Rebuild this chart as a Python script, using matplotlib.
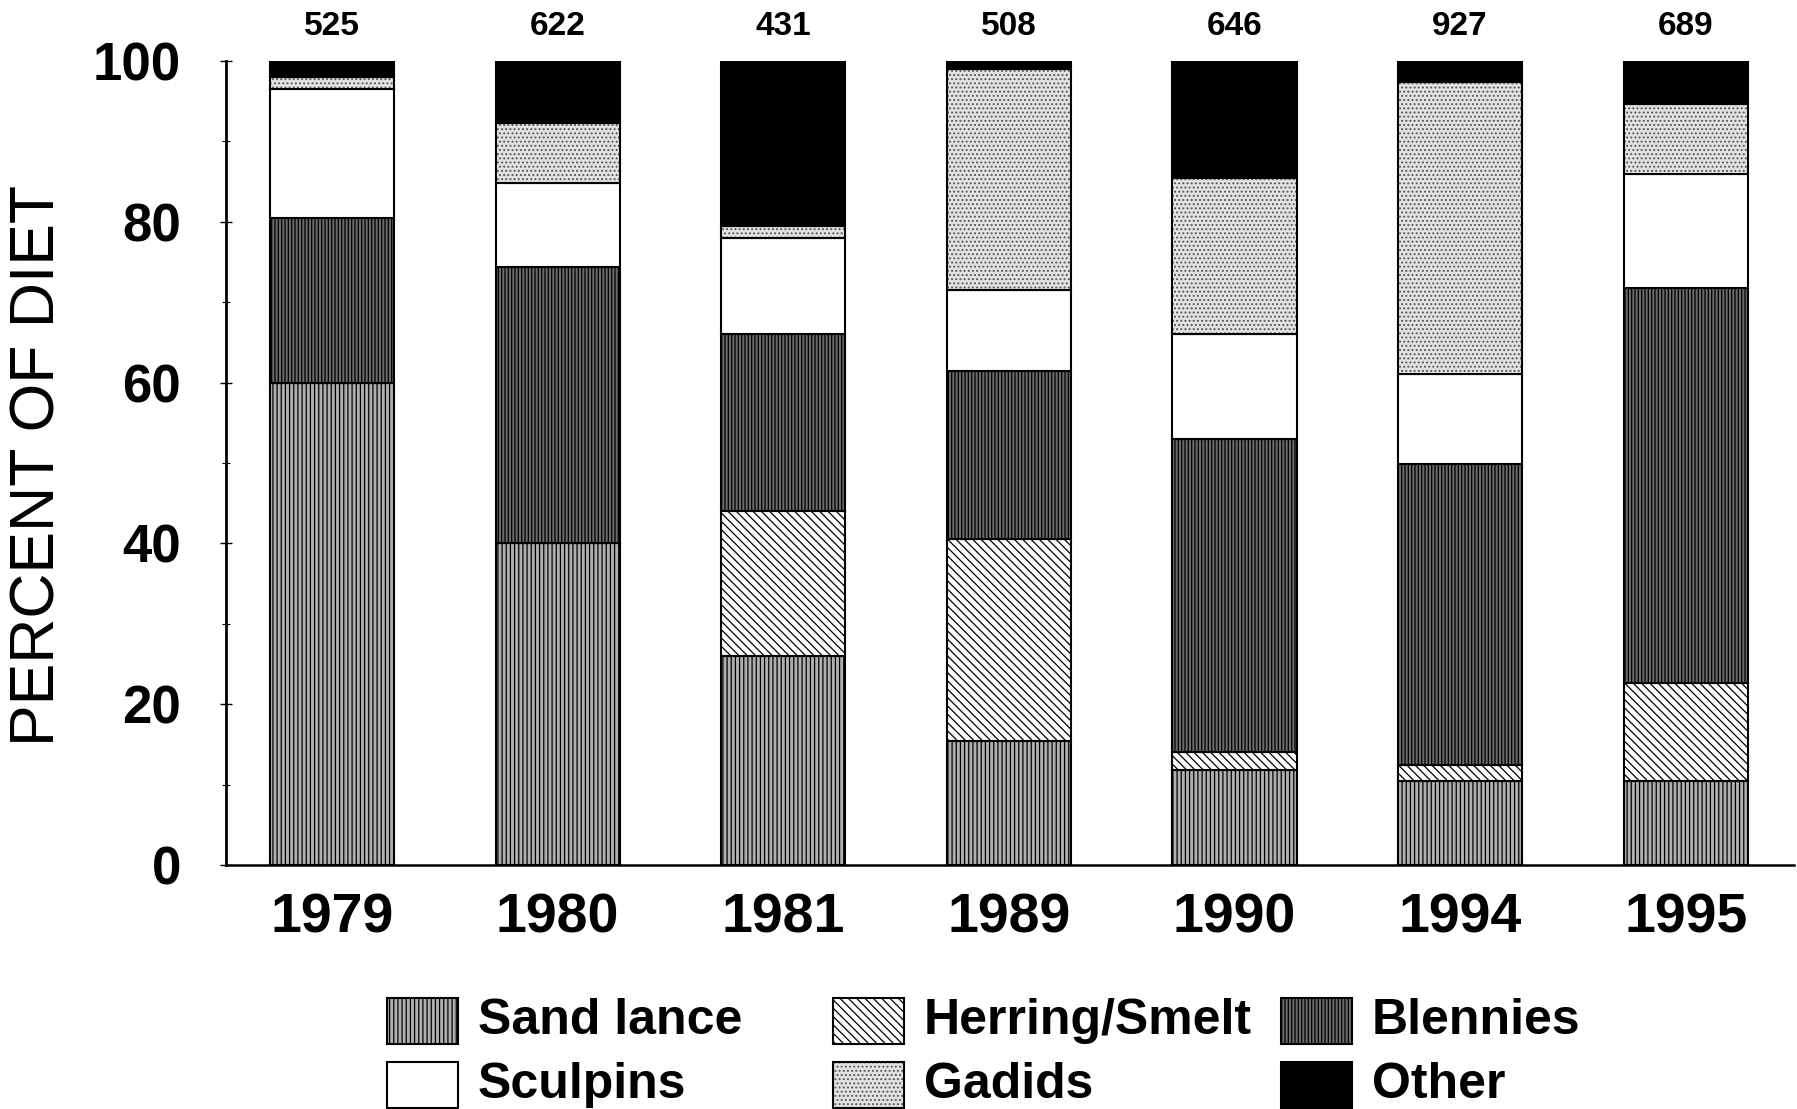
import numpy as np
import matplotlib.pyplot as plt
from matplotlib.patches import Rectangle

plt.rcParams['font.family'] = ['Liberation Sans', 'DejaVu Sans']
plt.rcParams['hatch.linewidth'] = 0.9

years = ['1979', '1980', '1981', '1989', '1990', '1994', '1995']
counts = [525, 622, 431, 508, 646, 927, 689]

sand_lance = [60.0, 40.0, 26.0, 15.4, 11.8, 10.5, 10.5]
herring_smelt = [0.0, 0.0, 18.0, 25.2, 2.2, 1.9, 12.1]
blennies = [20.5, 34.4, 22.0, 20.9, 39.0, 37.5, 49.2]
sculpins = [16.0, 10.4, 12.0, 10.0, 13.0, 11.2, 14.1]
gadids = [1.5, 7.5, 1.5, 27.5, 19.5, 36.3, 8.7]
other = [2.0, 7.7, 20.5, 1.0, 14.5, 2.6, 5.4]

names = ['Sand lance', 'Herring/Smelt', 'Blennies', 'Sculpins', 'Gadids', 'Other']
series = [sand_lance, herring_smelt, blennies, sculpins, gadids, other]
# face, hatch, hatch colour
styles = [('#b0b0b0', '||||', 'black'),
          ('white', '\\\\\\\\', 'black'),
          ('#6a6a6a', '|||||', 'black'),
          ('white', '', 'black'),
          ('#e2e2e2', '....', '#555555'),
          ('black', '', 'black')]

fig = plt.figure(figsize=(17.97, 11.09), dpi=100)
ax = fig.add_axes([0.1258, 0.22, 0.8725, 0.725])

x = np.arange(len(years))
w = 0.55
bottom = np.zeros(len(years))
for vals, (fc, hatch, hc) in zip(series, styles):
    vals = np.array(vals)
    ax.bar(x, vals, w, bottom=bottom, color=fc, hatch=hatch, edgecolor=hc, linewidth=0)
    ax.bar(x, vals, w, bottom=bottom, fill=False, edgecolor='black', linewidth=1.5)
    bottom += vals

for xi, n in zip(x, counts):
    ax.text(xi, 104.3, str(n), ha='center', va='center', fontsize=24,
            fontweight='bold', clip_on=False)

ax.set_xlim(-0.47, 6.48)
ax.set_ylim(0, 100)
ax.spines['top'].set_visible(False)
ax.spines['right'].set_visible(False)
ax.spines['left'].set_linewidth(2)
ax.spines['bottom'].set_linewidth(1.8)

ax.set_xticks(x)
ax.set_xticklabels(years, fontsize=40, fontweight='bold')
ax.tick_params(axis='x', length=0, pad=20)
ax.set_yticks(range(0, 101, 20))
ax.set_yticks(range(10, 100, 20), minor=True)
ax.tick_params(axis='y', which='major', labelsize=38, direction='inout', length=9, width=1, pad=28)
ax.tick_params(axis='y', which='minor', direction='inout', length=6, width=0.8)
for lab in ax.get_yticklabels():
    lab.set_fontweight('bold')

fig.text(0.021, 0.58, 'PERCENT OF DIET', rotation=90, ha='center', va='center', fontsize=45)

# legend built by hand, two rows of three
patch_x = [387, 833, 1281]
text_x = [478, 924, 1372]
row_y = [1021, 1085]
W, H = 1797.0, 1109.0
for i, (name, (fc, hatch, hc)) in enumerate(zip(names, styles)):
    r, c = divmod(i, 3)
    px, py = patch_x[c] / W, 1 - (row_y[r] + 23) / H
    fig.patches.append(Rectangle((px, py), 71 / W, 46 / H, transform=fig.transFigure,
                                 facecolor=fc, hatch=hatch, edgecolor=hc, linewidth=0))
    fig.patches.append(Rectangle((px, py), 71 / W, 46 / H, transform=fig.transFigure,
                                 fill=False, edgecolor='black', linewidth=1.5))
    fig.text(text_x[c] / W, 1 - row_y[r] / H, name, ha='left', va='center',
             fontsize=36, fontweight='bold')

fig.savefig('out.png', dpi=100)
